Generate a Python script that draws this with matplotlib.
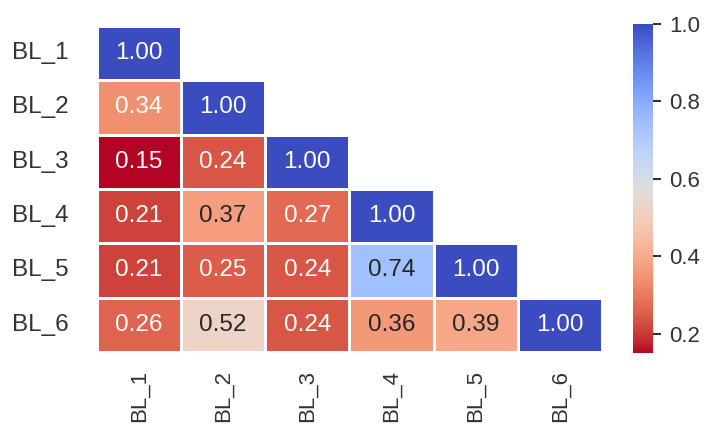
import numpy as np
import matplotlib
matplotlib.use("Agg")
import matplotlib.pyplot as plt
import seaborn as sns

labels = ["BL_1", "BL_2", "BL_3", "BL_4", "BL_5", "BL_6"]
row1 = [1.00]
row2 = [0.34, 1.00]
row3 = [0.15, 0.24, 1.00]
row4 = [0.21, 0.37, 0.27, 1.00]
row5 = [0.21, 0.25, 0.24, 0.74, 1.00]
row6 = [0.26, 0.52, 0.24, 0.36, 0.39, 1.00]
rows = [row1, row2, row3, row4, row5, row6]

n = len(labels)
corr = np.full((n, n), np.nan)
for i, r in enumerate(rows):
    for j, v in enumerate(r):
        corr[i, j] = v
        corr[j, i] = v
mask = np.triu(np.ones((n, n), dtype=bool), k=1)

plt.rcParams['font.family'] = ['Liberation Sans', 'DejaVu Sans']
fig = plt.figure(figsize=(7.12, 4.26), dpi=100)
ax = fig.add_axes([0.136, 0.174, 0.7095, 0.765])
cax = fig.add_axes([0.889, 0.171, 0.028, 0.773])

sns.heatmap(corr, mask=mask, cmap="coolwarm_r", annot=True, fmt=".2f",
            annot_kws={"size": 17.5}, linewidths=1, linecolor="white",
            xticklabels=labels, yticklabels=labels, ax=ax, cbar_ax=cax,
            vmin=0.15, vmax=1.0)

ax.tick_params(axis='both', length=0, colors='#333333')
ax.tick_params(axis='x', pad=13, labelrotation=90, labelsize=16)
ax.tick_params(axis='y', pad=20, labelrotation=0, labelsize=17.5)
cax.tick_params(labelsize=16, length=6, width=1.5, colors='#333333', pad=6)
cax.set_yticks([0.2, 0.4, 0.6, 0.8, 1.0])
for sp in cax.spines.values():
    sp.set_visible(False)

fig.savefig("out.png", dpi=100, facecolor="white")
